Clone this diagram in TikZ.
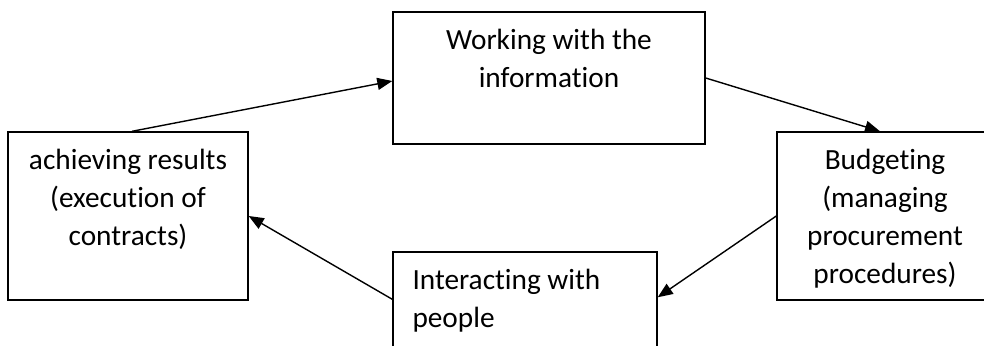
\documentclass[tikz,border=0pt]{standalone}
\usepackage{fontspec}
\setmainfont{Carlito}[Ligatures=NoCommon]
\usetikzlibrary{arrows.meta}
\newcommand{\boxfont}{\fontsize{29.3}{38}\selectfont}

\begin{document}
\begin{tikzpicture}[x=1pt, y=-1pt,
        stage/.style={draw, line width=1.4pt, inner sep=0pt, minimum width=#1},
        label/.style={font=\boxfont, inner sep=0pt, align=center, anchor=north},
        flow/.style={line width=1.4pt, -{Triangle[length=15pt, width=12pt]}}]
                \useasboundingbox (0,0) rectangle (984,345);
                \clip (0,0) rectangle (984,345);

                % Прямоугольники
                \node[stage=312pt, minimum height=132pt] (work) at (549,78) {};
                \node[stage=216pt, minimum height=168pt] (budget) at (885,216) {};
                \node[stage=264pt, minimum height=128pt] (people) at (525,316) {};
                \node[stage=240pt, minimum height=168pt] (results) at (128,216) {};

                % Текстовые подписи
                \node[label] (worktext) at ([yshift=-18pt]work.north)
                    {Working with the\\information};
                \node[label] (budgettext) at ([yshift=-18pt]budget.north)
                    {Budgeting\\(managing\\procurement\\procedures)};
                \node[label, align=left, anchor=north west] (peopletext)
                    at ([xshift=20pt, yshift=-18pt]people.north west)
                    {Interacting with\\people};
                \node[label] (resultstext) at ([yshift=-18pt]results.north)
                    {achieving results\\(execution of\\contracts)};

                % Стрелки
                \draw[flow] ([xshift=4pt]results.north) -- ([yshift=-3pt]work.west);
                \draw[flow] (work.east) -- ([xshift=-5pt]budget.north);
                \draw[flow] (budget.west) -- ([yshift=-46pt]people.north east);
                \draw[flow] ([yshift=-48pt]people.north west) -- (results.east);
\end{tikzpicture}
\end{document}
